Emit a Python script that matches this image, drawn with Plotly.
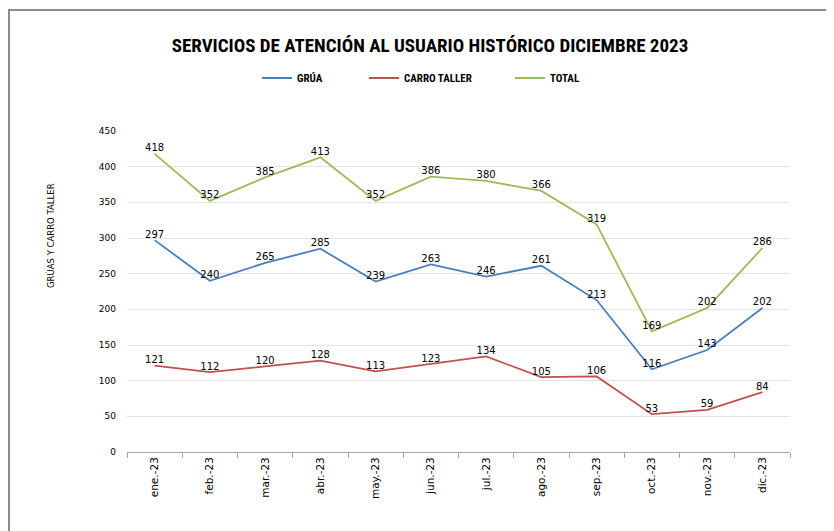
import plotly.graph_objects as go

months = ["ene.-23", "feb.-23", "mar.-23", "abr.-23", "may.-23", "jun.-23",
          "jul.-23", "ago.-23", "sep.-23", "oct.-23", "nov.-23", "dic.-23"]
grua = [297, 240, 265, 285, 239, 263, 246, 261, 213, 116, 143, 202]
carro_taller = [121, 112, 120, 128, 113, 123, 134, 105, 106, 53, 59, 84]
total = [418, 352, 385, 413, 352, 386, 380, 366, 319, 169, 202, 286]
y_ticks = [0, 50, 100, 150, 200, 250, 300, 350, 400, 450]

# page body has an 8px margin; figure sized to fit the window
W, H = 826, 523
L, R, T, B = 119, 44, 123, 79
pw, ph = W - L - R, H - T - B

label_font = dict(family="DejaVu Sans, Verdana, sans-serif", size=10, color="#000000")
legend_font = dict(family="Liberation Sans Narrow, Roboto Condensed, sans-serif",
                   size=11, color="#000000", weight="bold")

def px_x(p):
    return (p - L) / pw

def px_y(p):
    return (H - B - p) / ph

fig = go.Figure()
series = [("GRÚA", grua, "#4A7EBB", "legend", 249),
          ("CARRO TALLER", carro_taller, "#C0504D", "legend2", 356),
          ("TOTAL", total, "#9BBB59", "legend3", 502)]
legend_layout = {}
for name, vals, col, lg, lx in series:
    fig.add_trace(go.Scatter(
        x=months, y=vals, name=name, mode="lines+text",
        line=dict(color=col, width=1.8),
        text=[str(v) for v in vals], textposition="top center",
        textfont=label_font, cliponaxis=False, legend=lg,
    ))
    legend_layout[lg] = dict(orientation="h", x=px_x(lx), y=px_y(70), xanchor="left",
                             yanchor="middle", font=legend_font, itemwidth=30,
                             bgcolor="rgba(0,0,0,0)")

fig.update_layout(
    width=W, height=H,
    margin=dict(l=L, r=R, t=T, b=B),
    paper_bgcolor="white", plot_bgcolor="white",
    font=dict(family="DejaVu Sans, Verdana, sans-serif", size=9, color="#000000"),
    title=dict(text="<b>SERVICIOS DE ATENCIÓN AL USUARIO HISTÓRICO DICIEMBRE 2023</b>",
               font=dict(family="Liberation Sans Narrow, Roboto Condensed, Arial Narrow, sans-serif",
                         size=19, color="#000000"),
               xref="container", yref="container", x=422 / W, y=1 - 37 / H,
               xanchor="center", yanchor="middle"),
    xaxis=dict(type="category", showgrid=False, showline=True, linecolor="#A6A6A6", linewidth=1,
               ticks="outside", tickson="boundaries", ticklen=5, tickcolor="#A6A6A6",
               tickangle=-90, tickfont=dict(size=10.5), range=[-0.5, 11.5]),
    yaxis=dict(range=[0, 450], tickvals=y_ticks, showgrid=True, gridcolor="#E3E3E3",
               gridwidth=1, zeroline=False, showline=False, ticks="", ticklabelstandoff=10,
               tickfont=dict(size=9)),
    showlegend=True,
    annotations=[dict(text="GRÚAS Y CARRO TALLER", textangle=-90, showarrow=False,
                      xref="paper", yref="paper", x=px_x(42), y=px_y(228),
                      xanchor="center", yanchor="middle",
                      font=dict(family="DejaVu Sans, Verdana, sans-serif", size=8.5,
                                color="#000000"))],
    shapes=[dict(type="rect", xref="paper", yref="paper",
                 x0=px_x(1), x1=px_x(W + 20), y0=px_y(H + 20), y1=px_y(2),
                 line=dict(color="#8C8C8C", width=2), fillcolor="rgba(0,0,0,0)", layer="below")],
    **legend_layout,
)

fig.write_html("out.html")
